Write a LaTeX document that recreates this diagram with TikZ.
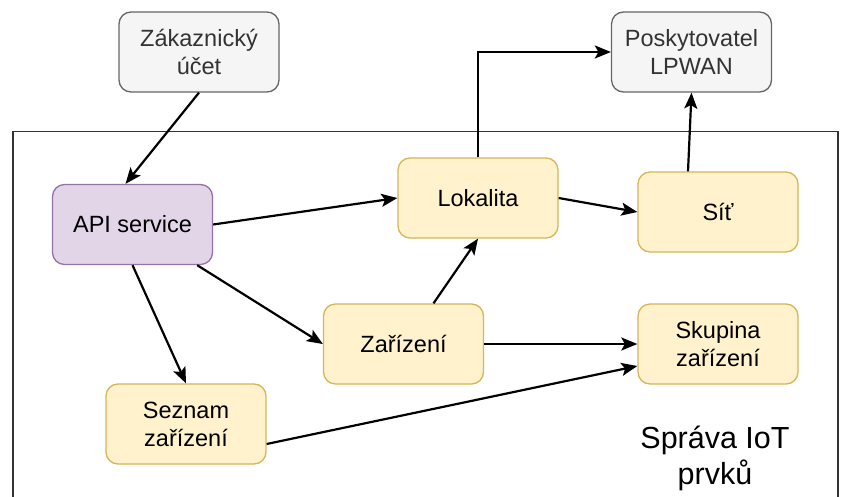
\documentclass[tikz,border=0pt]{standalone}
\usepackage{fontspec}
\setmainfont{Liberation Sans}
\usetikzlibrary{arrows.meta}
\definecolor{grayfill}{HTML}{F5F5F5}
\definecolor{grayline}{HTML}{666666}
\definecolor{graytext}{HTML}{333333}
\definecolor{yellowfill}{HTML}{FFF2CC}
\definecolor{yellowline}{HTML}{D6B656}
\definecolor{purplefill}{HTML}{E1D5E7}
\definecolor{purpleline}{HTML}{9673A6}
\definecolor{frameline}{HTML}{333333}
\begin{document}
\begin{tikzpicture}[x=1pt, y=-1pt,
    box/.style={rounded corners=12pt, minimum width=160pt, minimum height=80pt,
        align=center, line width=1.3pt, font=\fontsize{23.5}{28}\selectfont},
    graybox/.style={box, draw=grayline, fill=grayfill, text=graytext},
    yellowbox/.style={box, draw=yellowline, fill=yellowfill},
    purplebox/.style={box, draw=purpleline, fill=purplefill},
    arr/.style={line width=2.2pt, -{Stealth[length=16pt, width=13pt, inset=3.5pt]}}]

        \useasboundingbox (0,0) rectangle (842,497);
        \draw[line width=1.6pt, frameline] (12.7,497) -- (12.7,131.7) -- (837.7,131.7) -- (837.7,497);

        \node[graybox] (zakaznik) at (199,52) {Zákaznický\\účet};
        \node[graybox] (lpwan) at (691.5,52) {Poskytovatel\\LPWAN};
        \node[purplebox] (api) at (132.5,224.5) {API service};
        \node[yellowbox] (lokalita) at (478,198) {Lokalita};
        \node[yellowbox] (sit) at (718,212) {Síť};
        \node[yellowbox] (zarizeni) at (403.5,344) {Zařízení};
        \node[yellowbox] (skupina) at (718,344) {Skupina\\zařízení};
        \node[yellowbox] (seznam) at (186,424) {Seznam\\zařízení};
        \node[font=\fontsize{30.5}{36}\selectfont, align=center] (sprava) at (715,458) {Správa IoT\\prvků};

        \draw[arr] (zakaznik.south) -- ([xshift=-7pt]api.north);
        \draw[arr] (api.east) -- (lokalita.west);
        \draw[arr] ([xshift=-16pt]api.south east) -- (zarizeni.west);
        \draw[arr] (api.south) -- (seznam.north);
        \draw[arr] ([xshift=30pt]zarizeni.north) -- (lokalita.south);
        \draw[arr] (lokalita.east) -- (sit.west);
        \draw[arr] (lokalita.north) |- (lpwan.west);
        \draw[arr] ([xshift=-30pt]sit.north) -- (lpwan.south);
        \draw[arr] (zarizeni.east) -- (skupina.west);
        \draw[arr] ([yshift=-20pt]seznam.east) -- ([yshift=-22pt]skupina.west);
\end{tikzpicture}
\end{document}
